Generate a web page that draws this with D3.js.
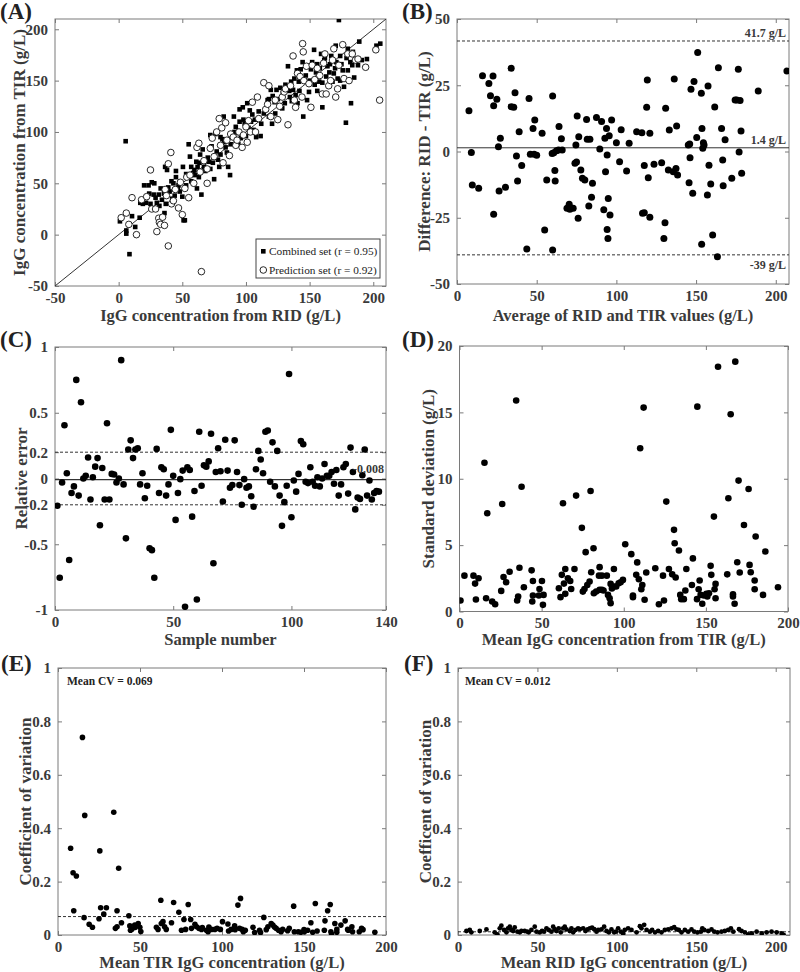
<!DOCTYPE html>
<html><head><meta charset="utf-8">
<script src="https://cdn.jsdelivr.net/npm/d3@7"></script>
<style>
body{margin:0;background:#fff}
svg{display:block}
text{font-family:"Liberation Serif","Times New Roman",serif}
</style>
</head><body>
<svg id="chart" width="800" height="972"></svg>
<script>
// ---------------- DATA ----------------
// (A) RID vs TIR
const aCombined = [[1,13],[6,1],[6,4],[5.5,91],[8.5,-19],[10.5,18],[13,7.5],[16.5,16.5],[17,31],[20,48],[21.5,31],[23.5,48],[25,30],[26,51],[27.5,39],[28,50],[30,31],[31.5,39],[32,28],[34,34],[35.5,40],[36,21],[36.5,66],[38,63],[39,46],[40,42],[41.5,52],[43,50],[44,38],[45,56],[46.5,45],[48,42],[50,37],[50.5,66],[51,14],[52,14],[53,59],[54,57],[55,88],[56,76],[57,66],[58.5,60],[59.5,63],[61,71],[61.5,45],[63,56],[63.5,70],[65,39],[66,83],[67,66],[69,72],[71,71],[72,97],[73,86],[75,54],[76,98],[77,81],[79,66],[80,78],[81.5,93],[82.5,115],[84,85],[86,66],[87.5,58],[89,95],[90.5,115],[92,105],[93.5,99],[95,122],[96,94],[97.5,124],[99,108],[101,128],[103,121],[105,117],[106,102],[108,95],[111.5,96],[117,131],[118,132],[119.5,141],[120.5,108],[122.5,129],[124,141],[126,126],[127,143],[128.5,123],[130.5,128],[132,144],[133,164],[134.5,134],[135.5,149],[137,141],[139,136],[140.5,128],[141.5,149],[143,161],[144.5,168],[145,115],[147,155],[148,131],[149.5,139],[151,161],[152,168],[153.5,180],[155,158],[156,166],[157.5,149],[159,176],[160,124],[161.5,170],[163,154],[164,164],[165.5,158],[167,174],[168,149],[169,157],[170.5,184],[172,152],[173,209],[174,174],[174,150],[176,160],[177,144],[178.5,109],[180,181],[182,168],[182.5,128],[183.5,165],[185,153],[188,165],[189,188],[191,170],[195,171],[202.5,184],[205.5,186],
[42,35],[47,48],[53,48],[57,52],[60,58],[62,66],[68,62],[70,75],[74,70],[78,73],[83,90],[85,80],[88,88],[91,100],[94,88],[98,112],[100,96],[104,110],[107,112],[110,120],[114,118],[116,122],[121,135],[125,132],[129,138],[131,146],[136,130],[138,152],[142,140],[146,150],[150,150],[154,146],[158,162],[162,172],[166,166],[171,168],[175,166],[179,172],[184,178],[33,45],[29,36],[24,40],[19,30],[37,30],[45,62],[64,78],[72,64],[80,95],[95,110],[102,104],[112,108],[118,115],[123,118],[134,140],[140,160],[148,164],[156,140],[160,148],[170,162],[180,160]];
const aPrediction = [[2,16.5],[6,21],[8,10],[10.5,36],[14,0],[18,34],[22,37],[25,63],[26,25],[29,25],[30,3],[31.5,16],[32,12],[33,10],[34.5,17],[36,9],[36.5,44],[37.5,38],[39,-11],[39,69],[41,80],[41.5,30],[43,33],[44.5,44],[47,26],[48.5,51],[50,19.5],[52,45],[53.5,56],[55,36],[56,58],[59,50],[61.5,85],[63,89],[64,61],[65,-36],[67,72],[69.5,50],[69.5,64],[72,84],[73.5,94],[75,76],[77,100],[79,113],[80,87],[81,104],[82,70],[84,109],[85,92],[87,77],[88,98],[90,95],[92,87],[93,92],[94.5,100],[97,85],[98,97],[100,105],[101,90],[102,111],[103.5,100],[105,129],[107.5,100],[109,134],[110,113],[114,148],[115.5,122],[117,127],[118,145],[119.5,115],[123,131],[125,112],[126.5,125],[128.5,134],[130,139],[131,142],[133,107],[135,145],[137,174],[138,131],[139,124],[140.5,157],[142.5,154],[144,134],[144.5,186],[145,178],[145.5,150],[147.5,164],[149.5,147],[151,124],[152,165],[154,151],[156,162],[158,155],[160,137],[161,167],[162,176],[163,137],[165,145],[166.5,150],[168,170],[169,181],[170.5,134],[172,142],[173,165],[176,185],[177,152],[180,176],[181,150],[183.5,176],[186,170],[188,171],[194,163],[202,180],[205,131]];
const aLegend = ["Combined set (r = 0.95)", "Prediction set (r = 0.92)"];

// (B) Bland-Altman
const bPoints = [[7.5,15.4],[9,-0.4],[9.6,-12.6],[13.6,-13.9],[16,28.6],[20,25.7],[21,21],[22.6,28.5],[23,17.3],[23,-23.7],[25,19.7],[26,1.8],[26.4,-14.9],[27.2,5],[30.4,-13.5],[34,31.4],[34,16.9],[35.6,16.7],[36.4,22.2],[37.3,-1.7],[38,-11.1],[39,7.5],[40.6,-5.3],[43.8,-36.8],[45.2,20],[46,-1],[47.7,8.7],[48.4,-1],[48.8,11.9],[50,-1.4],[53.4,6.9],[55,-29.6],[56.3,-10.8],[59.7,-0.8],[60,20.9],[60,-37.2],[60.7,-0.5],[61.4,-7.2],[61.6,-11.1],[62.4,0.3],[63.7,0.6],[64,9.4],[65.5,4.8],[66,0.6],[69,-21.4],[70.4,-19.9],[70.8,-21.8],[72.9,-21.4],[74,-4.4],[74.6,2.5],[75,-4],[75.4,13.4],[76,-25.2],[76.4,5.6],[77.7,-7],[78.7,-10.1],[80.2,-10.8],[81.3,12.1],[81.7,4.6],[82.7,-20.6],[83.4,4.6],[84.4,-17.3],[85,-12],[87.5,12.8],[89.6,0.9],[90.7,11.3],[92.1,-22],[92.8,5],[93.2,-7.6],[93.8,8.7],[94.2,-1.3],[94.2,-29.4],[94.7,-32.8],[94.9,-17.7],[95.5,5.9],[96,-24],[97,11.9],[100,3.3],[102,-3.9],[103,8.2],[106.4,-7.4],[108,3.1],[112.7,7.5],[116,7.1],[116.4,-23.3],[117.5,-23.1],[117.5,-5.3],[119,16.7],[119.4,27],[120,-9.9],[121,6.9],[121,-24.8],[123.6,-4.8],[128.4,-4.2],[129.8,-32.8],[130.5,-26.9],[130.9,16.3],[132.6,-7],[133.2,8.1],[135.7,-7.6],[136.3,27.4],[137.4,-6.4],[137.8,9.6],[138.4,-8.9],[145.1,2.5],[145.6,-11.8],[146,2.8],[146.2,-2.4],[146.8,23.5],[147.9,-15.8],[148.7,26.4],[150.4,5.3],[151,37.4],[153.3,22],[153.5,-35],[153.7,8.7],[154.2,1.2],[154.6,3.3],[155,2.5],[157.1,-16.4],[157.5,24.7],[158.1,-5.2],[159.2,-12.3],[160.4,-31.5],[161.7,16.8],[163.4,-39.7],[164,31.6],[166,8.7],[166.7,-3.2],[167,-12.9],[168.2,4.4],[172.4,-10.1],[174.5,19.4],[175.5,19.4],[176.5,31],[177,-0.2],[177.6,19.2],[178.2,7.7],[178.6,-8.2],[189,22.8],[207,30.4]];
const bLimits = [41.7, 1.4, -39];
const bLimitLabels = ["41.7 g/L", "1.4 g/L", "-39 g/L"];

// (C) relative error per sample (sample 1..137)
const cErrors = [-0.207,-0.755,-0.03,0.405,0.04,-0.62,-0.11,-0.06,0.75,-0.13,0.58,0,0.02,0.16,-0.16,0.01,0.09,0.155,-0.355,0.08,-0.16,0.42,-0.16,0.035,0.03,-0.03,0,0.9,-0.045,-0.455,0.22,0.29,0.155,0.22,0.23,-0.045,0.04,-0.15,-0.055,-0.53,-0.545,-0.755,0.225,-0.11,0.085,0.07,-0.13,-0.045,0.37,0.02,-0.315,-0.11,-0.005,0.06,-0.975,0.085,0.065,-0.29,-0.095,-0.92,0.355,-0.055,0.1,0.09,0.13,0.34,-0.645,0.05,0.23,0.055,-0.175,0.295,0.06,-0.07,-0.05,0.29,0.05,-0.05,-0.2,-0.005,-0.07,-0.06,-0.135,-0.215,0.07,0.21,0.145,0.04,0.355,0.365,-0.025,0.275,-0.06,0.21,-0.13,-0.36,-0.18,-0.055,0.795,-0.295,-0.015,-0.1,0.035,0.285,0.26,-0.025,-0.035,0.085,-0.025,-0.055,0.01,-0.06,0,0.11,0.02,0.02,0.05,-0.04,0.065,-0.13,-0.045,0.085,0.11,-0.115,0.235,0.05,-0.235,-0.145,-0.155,0.025,0.22,-0.13,-0.015,-0.16,-0.11,-0.095,-0.1];
const cMean = -0.008;
const cLimits = [0.2, -0.2];

// (D) SD vs mean TIR
const dPoints = [[0.6,0.83],[3,2.7],[8.5,2.7],[9.5,2.1],[10,0.9],[11.6,2.5],[15.2,11.2],[16.2,1.0],[16.9,7.4],[19.9,0.75],[21.7,0.55],[25.4,1.55],[26,8.1],[26.8,2.6],[28.4,2.2],[30.5,3.0],[34.5,15.9],[35.1,0.83],[35.7,1.13],[36.5,3.3],[37.8,9.4],[39.2,1.83],[43.9,3.1],[44.3,0.75],[44.7,1.2],[44.7,2.3],[48.3,1.2],[48.7,1.7],[50.2,2.3],[50.8,0.5],[51.2,1.25],[60.5,1.75],[61.5,1.08],[62.3,2.76],[63,8.15],[63.6,2.1],[64.4,3.2],[64.4,1.33],[66,2.5],[67.4,2.3],[68,1.7],[70,3.2],[71,8.73],[74.5,6.3],[75.1,1.5],[76.1,1.7],[76.8,4.47],[77.8,2.0],[79.2,2.26],[79.8,9.08],[80.2,2.96],[81.6,4.77],[81.8,1.38],[83.2,1.5],[84.9,2.7],[85.3,3.34],[85.3,1.63],[86.7,2.7],[86.7,1.63],[87.7,1.58],[89.7,2.7],[90.4,1.25],[91.4,1.0],[92,0.63],[92,2.08],[92.8,1.73],[94,3.2],[94,1.88],[95.4,1.88],[96.9,2.13],[98.1,2.2],[99.5,2.38],[100.9,5.07],[104.6,4.32],[105.6,1.2],[105.6,1.08],[107.6,2.76],[108.2,3.7],[109.2,2.43],[110,12.3],[110.7,1.68],[111.3,2.0],[112.1,15.36],[112.7,0.88],[113.7,2.94],[119.2,3.26],[121.4,0.55],[123.9,2.7],[124.5,0.83],[125.9,8.28],[127.5,3.2],[129.5,2.8],[130.6,6.15],[131,5.14],[131.6,2.56],[133.6,4.6],[134.4,1.25],[135,0.93],[136.6,0.93],[137.5,1.58],[138.1,3.2],[141.5,2.0],[142.1,4.0],[144.6,0.93],[144.8,15.43],[145.6,1.68],[146.2,2.33],[146.8,1.25],[147.8,0.58],[148.8,1.2],[150.3,1.33],[150.9,1.13],[151.9,1.38],[152.9,3.44],[153.3,2.76],[154.9,7.15],[155.3,1.68],[155.9,1.0],[155.9,2.08],[157.4,18.44],[163,2.8],[163.7,8.53],[165.1,14.86],[166.5,1.3],[166.5,1.13],[167.5,0.58],[167.9,18.82],[169.1,3.71],[169.9,9.86],[170.6,2.94],[173.2,6.52],[176,9.23],[176.6,3.51],[177.3,2.96],[179.7,2.33],[179.7,1.68],[180.3,5.65],[184.8,1.25],[186.2,4.52],[193.9,1.83]];

// (E) CV vs mean TIR
const ePoints = [[7.7,0.325],[9.2,0.233],[11.2,0.221],[9.6,0.091],[14.9,0.74],[16.3,0.448],[25.5,0.315],[34,0.46],[37,0.25],[15.9,0.065],[19,0.04],[21,0.029],[25,0.061],[26,0.102],[27.9,0.078],[29.5,0.102],[35,0.025],[36,0.031],[36,0.091],[38.7,0.046],[43.2,0.072],[43.8,0.034],[44.2,0.018],[46.8,0.037],[48.9,0.043],[49.9,0.029],[50.5,0.013],[60,0.029],[61,0.021],[62.7,0.13],[63,0.043],[64,0.05],[65,0.031],[66,0.021],[69.2,0.046],[70.5,0.122],[73.7,0.085],[75.3,0.018],[76.8,0.058],[77.8,0.021],[79.4,0.114],[80.9,0.058],[81.4,0.025],[83.5,0.04],[84.5,0.031],[85.9,0.025],[87.5,0.021],[90.5,0.018],[91.5,0.012],[93.5,0.021],[95.6,0.021],[99,0.021],[100.3,0.05],[103.6,0.041],[105.6,0.021],[107.7,0.034],[109.7,0.112],[111.3,0.137],[110.7,0.025],[112.3,0.021],[114.2,0.018],[118.9,0.029],[119.9,0.009],[122.9,0.018],[123.5,0.009],[125.5,0.066],[128,0.031],[130,0.043],[131,0.037],[133,0.025],[134.5,0.018],[137,0.021],[140,0.016],[141,0.025],[143.7,0.108],[144.1,0.012],[146.5,0.012],[148.1,0.01],[150.2,0.012],[152.2,0.018],[154.2,0.046],[155.3,0.01],[156.9,0.118],[162.8,0.053],[162.4,0.018],[164.4,0.091],[166,0.114],[166.4,0.012],[166.8,0.004],[168.8,0.043],[170,0.021],[172.5,0.037],[175.1,0.053],[176.6,0.021],[179.2,0.031],[179.6,0.012],[183.7,0.012],[185.1,0.025],[193.2,0.01],[45,0.022],[47,0.028],[88,0.028],[92,0.03],[97,0.025],[104,0.015],[108,0.02],[113,0.012],[127,0.02],[132,0.03],[136,0.012],[150,0.02],[158,0.015],[170,0.01],[177,0.018],[186,0.02]];
const eMeanCV = 0.069;

// (F) CV vs mean RID
const fPoints = [[5.3,0.015],[7.4,0.019],[8.4,0.010],[13.7,0.015],[17.9,0.021],[23.1,0.010],[24.8,0.0025],[26.3,0.025],[27.3,0.035],[29,0.019],[30.5,0.010],[31.5,0.025],[32.6,0.031],[33.6,0.019],[34.7,0.015],[35.7,0.028],[37.4,0.0125],[38.9,0.01],[39.9,0.015],[42,0.015],[43.7,0.0125],[44.5,0.01],[46.2,0.019],[48.3,0.031],[49.4,0.0125],[51.5,0.01],[52.9,0.015],[54.2,0.0125],[55.7,0.025],[57.1,0.019],[58.8,0.0125],[59.9,0.031],[60.9,0.022],[62,0.015],[63.4,0.025],[64.7,0.01],[66.2,0.025],[67.2,0.031],[68.3,0.021],[70.4,0.015],[71.4,0.025],[72.5,0.01],[74,0.019],[75.6,0.025],[76.7,0.022],[78.8,0.025],[80.3,0.015],[81.5,0.021],[83,0.025],[84.4,0.0275],[85.7,0.022],[87.2,0.0125],[88.2,0.019],[90.3,0.021],[92,0.031],[93.5,0.015],[95,0.01],[96.6,0.021],[98.3,0.01],[99.4,0.0125],[100.8,0.025],[102.5,0.0125],[104,0.006],[105,0.019],[107.1,0.025],[109.2,0.019],[112.4,0.01],[114.5,0.033],[115.5,0.025],[117.2,0.038],[118.7,0.019],[120.8,0.0125],[122.2,0.019],[124,0.01],[126,0.015],[128.1,0.01],[130.2,0.019],[132.3,0.021],[134.4,0.025],[136.1,0.029],[137.6,0.021],[139,0.019],[140.7,0.01],[142.8,0.019],[144.9,0.0125],[147,0.021],[148.7,0.0125],[150.8,0.01],[152.9,0.0125],[153.8,0.025],[155,0.019],[157.5,0.015],[159.6,0.021],[161.3,0.0125],[163.4,0.01],[165.9,0.0125],[168,0.015],[170.1,0.019],[171.8,0.025],[173.3,0.0125],[176.9,0.022],[178.5,0.015],[180.6,0.01],[182.8,0.0025],[184.9,0.006],[188,0.0125],[191.2,0.006],[194.3,0.01],[197.4,0.0125],[200.6,0.01],[203.8,0.006],[205,0.0]];
const fMeanCV = 0.012;

// ---------------- DRAW ----------------
const svg = d3.select("#chart");
svg.append("rect").attr("width",800).attr("height",972).attr("fill","#fff");
const TXT = "#3a3a3a", AX = "#7a7a7a";

function panel(o){
  const g = svg.append("g");
  const x = d3.scaleLinear().domain(o.xd).range([o.l, o.r]);
  const y = d3.scaleLinear().domain(o.yd).range([o.b, o.t]);
  const fmt = d => String(d);
  const style = sel => {
    sel.select(".domain").remove();
    sel.selectAll(".tick line").attr("stroke", AX);
    sel.selectAll(".tick text").attr("fill", TXT).attr("font-size", 15).attr("font-weight","bold")
       .attr("font-family",'"Liberation Serif","Times New Roman",serif');
  };
  g.append("g").attr("transform",`translate(0,${o.b})`)
    .call(d3.axisBottom(x).tickValues(o.xt).tickSize(-4).tickPadding(6).tickFormat(fmt)).call(style);
  g.append("g").attr("transform",`translate(0,${o.t})`)
    .call(d3.axisTop(x).tickValues(o.xt).tickSize(-4).tickFormat("")).call(style);
  g.append("g").attr("transform",`translate(${o.l},0)`)
    .call(d3.axisLeft(y).tickValues(o.yt).tickSize(-4).tickPadding(7).tickFormat(fmt)).call(style);
  g.append("g").attr("transform",`translate(${o.r},0)`)
    .call(d3.axisRight(y).tickValues(o.yt).tickSize(-4).tickFormat("")).call(style);
  g.append("rect").attr("x",o.l).attr("y",o.t).attr("width",o.r-o.l).attr("height",o.b-o.t)
    .attr("fill","none").attr("stroke",AX).attr("stroke-width",1);
  g.append("text").attr("x",(o.l+o.r)/2).attr("y",o.xly).attr("text-anchor","middle")
    .attr("font-size",16.5).attr("font-weight","bold").attr("fill",TXT).text(o.xl);
  g.append("text").attr("transform",`translate(${o.ylx},${(o.t+o.b)/2}) rotate(-90)`).attr("text-anchor","middle")
    .attr("font-size",17).attr("font-weight","bold").attr("fill",TXT).text(o.yl);
  g.append("text").attr("x",o.px).attr("y",o.py).attr("font-size",23).attr("font-weight","bold")
    .attr("fill","#222").text(o.tag);
  const clip = "clip"+o.tag.replace(/\W/g,"");
  svg.append("clipPath").attr("id",clip).append("rect").attr("x",o.l).attr("y",o.t).attr("width",o.r-o.l).attr("height",o.b-o.t);
  const inner = g.append("g").attr("clip-path",`url(#${clip})`);
  return {g, inner, x, y};
}

// Panel A
{
  const p = panel({l:55,r:386,t:19,b:286,xd:[-50,210],yd:[-50,210],xt:[-50,0,50,100,150,200],yt:[-50,0,50,100,150,200],
    xl:"IgG concentration from RID (g/L)", yl:"IgG concentration from TIR (g/L)", xly:321, ylx:25, tag:"(A)", px:0, py:19});
  p.inner.append("line").attr("x1",p.x(-50)).attr("y1",p.y(-50)).attr("x2",p.x(210)).attr("y2",p.y(210))
    .attr("stroke","#333").attr("stroke-width",1);
  p.inner.selectAll("rect.sq").data(aCombined).join("rect").attr("class","sq")
    .attr("x",d=>p.x(d[0])-2.3).attr("y",d=>p.y(d[1])-2.3).attr("width",4.6).attr("height",4.6).attr("fill","#000");
  p.inner.selectAll("circle.pc").data(aPrediction).join("circle").attr("class","pc")
    .attr("cx",d=>p.x(d[0])).attr("cy",d=>p.y(d[1])).attr("r",3.3).attr("fill","#fff").attr("stroke","#111").attr("stroke-width",0.9);
  const lg = p.g.append("g");
  lg.append("rect").attr("x",256).attr("y",239).attr("width",124).attr("height",39).attr("fill","#fff").attr("stroke","#444");
  lg.append("rect").attr("x",261).attr("y",249).attr("width",4.6).attr("height",4.6).attr("fill","#000");
  lg.append("circle").attr("cx",263.3).attr("cy",270).attr("r",3.3).attr("fill","#fff").attr("stroke","#111").attr("stroke-width",0.9);
  lg.selectAll("text").data(aLegend).join("text").attr("x",269).attr("y",(d,i)=>255+i*19)
    .attr("font-size",11.3).attr("fill","#222").text(d=>d);
}

// Panel B
{
  const p = panel({l:457,r:789,t:19,b:284,xd:[0,208.3],yd:[-50,50],xt:[0,50,100,150,200],yt:[-50,-25,0,25,50],
    xl:"Average of RID and TIR values (g/L)", yl:"Difference: RID - TIR (g/L)", xly:321, ylx:430, tag:"(B)", px:402, py:19});
  p.inner.selectAll("line.lim").data(bLimits).join("line").attr("class","lim")
    .attr("x1",p.x(0)).attr("x2",p.x(208.3)).attr("y1",d=>p.y(d)).attr("y2",d=>p.y(d))
    .attr("stroke","#333").attr("stroke-width",1).attr("stroke-dasharray",(d,i)=>i===1?null:"3,2");
  p.inner.selectAll("circle").data(bPoints).join("circle").attr("cx",d=>p.x(d[0])).attr("cy",d=>p.y(d[1])).attr("r",3.5).attr("fill","#000");
  p.g.selectAll("text.lab").data(bLimits).join("text").attr("class","lab")
    .attr("x",786).attr("y",(d,i)=>i===2?p.y(d)+14:p.y(d)-4).attr("text-anchor","end")
    .attr("font-size",12).attr("font-weight","bold").attr("fill",TXT).text((d,i)=>bLimitLabels[i]);
}

// Panel C
{
  const p = panel({l:55,r:386,t:347,b:610,xd:[0,140],yd:[-1,1],xt:[0,50,100,140],yt:[-1,-0.5,-0.2,0,0.2,0.5,1],
    xl:"Sample number", yl:"Relative error", xly:645, ylx:27, tag:"(C)", px:0, py:347});
  p.inner.selectAll("line.lim").data(cLimits).join("line").attr("class","lim")
    .attr("x1",p.x(0)).attr("x2",p.x(140)).attr("y1",d=>p.y(d)).attr("y2",d=>p.y(d))
    .attr("stroke","#333").attr("stroke-dasharray","3,2");
  p.inner.append("line").attr("x1",p.x(0)).attr("x2",p.x(140)).attr("y1",p.y(cMean)).attr("y2",p.y(cMean)).attr("stroke","#333").attr("stroke-width",1.2);
  p.inner.selectAll("circle").data(cErrors).join("circle").attr("cx",(d,i)=>p.x(i+1)).attr("cy",d=>p.y(d)).attr("r",3.3).attr("fill","#000");
  p.g.append("text").attr("x",384).attr("y",p.y(cMean)-7).attr("text-anchor","end").attr("font-size",12).attr("font-weight","bold")
    .attr("fill",TXT).text(String(cMean));
}

// Panel D
{
  const p = panel({l:459.5,r:788,t:346,b:611.5,xd:[0,200],yd:[0,20],xt:[0,50,100,150,200],yt:[0,5,10,15,20],
    xl:"Mean IgG concentration from TIR (g/L)", yl:"Standard deviation (g/L)", xly:645, ylx:434, tag:"(D)", px:402, py:347});
  p.inner.selectAll("circle").data(dPoints).join("circle").attr("cx",d=>p.x(d[0])).attr("cy",d=>p.y(d[1])).attr("r",3.3).attr("fill","#000");
}

// Panel E
{
  const p = panel({l:58,r:386,t:668,b:935,xd:[0,200],yd:[0,1],xt:[0,50,100,150,200],yt:[0,0.2,0.4,0.6,0.8,1],
    xl:"Mean TIR IgG concentration (g/L)", yl:"Coefficient of variation", xly:968, ylx:31, tag:"(E)", px:1, py:671});
  p.inner.append("line").attr("x1",p.x(0)).attr("x2",p.x(200)).attr("y1",p.y(eMeanCV)).attr("y2",p.y(eMeanCV))
    .attr("stroke","#333").attr("stroke-dasharray","3,2");
  p.inner.selectAll("circle").data(ePoints).join("circle").attr("cx",d=>p.x(d[0])).attr("cy",d=>p.y(d[1])).attr("r",2.8).attr("fill","#000");
  p.g.append("text").attr("x",67).attr("y",685).attr("font-size",11.5).attr("font-weight","bold").attr("fill","#222").text("Mean CV = " + eMeanCV);
}

// Panel F
{
  const p = panel({l:458,r:790,t:668,b:935,xd:[0,209],yd:[0,1],xt:[0,50,100,150,200],yt:[0,0.2,0.4,0.6,0.8,1],
    xl:"Mean RID IgG concentration (g/L)", yl:"Coefficent of variation", xly:968, ylx:431, tag:"(F)", px:404, py:671});
  p.inner.append("line").attr("x1",p.x(0)).attr("x2",p.x(209)).attr("y1",p.y(fMeanCV)).attr("y2",p.y(fMeanCV))
    .attr("stroke","#333").attr("stroke-dasharray","3,2");
  p.inner.selectAll("circle").data(fPoints).join("circle").attr("cx",d=>p.x(d[0])).attr("cy",d=>p.y(d[1])).attr("r",2.4).attr("fill","#000");
  p.g.append("text").attr("x",465).attr("y",685).attr("font-size",11.5).attr("font-weight","bold").attr("fill","#222").text("Mean CV = " + fMeanCV);
}
</script>
</body></html>
